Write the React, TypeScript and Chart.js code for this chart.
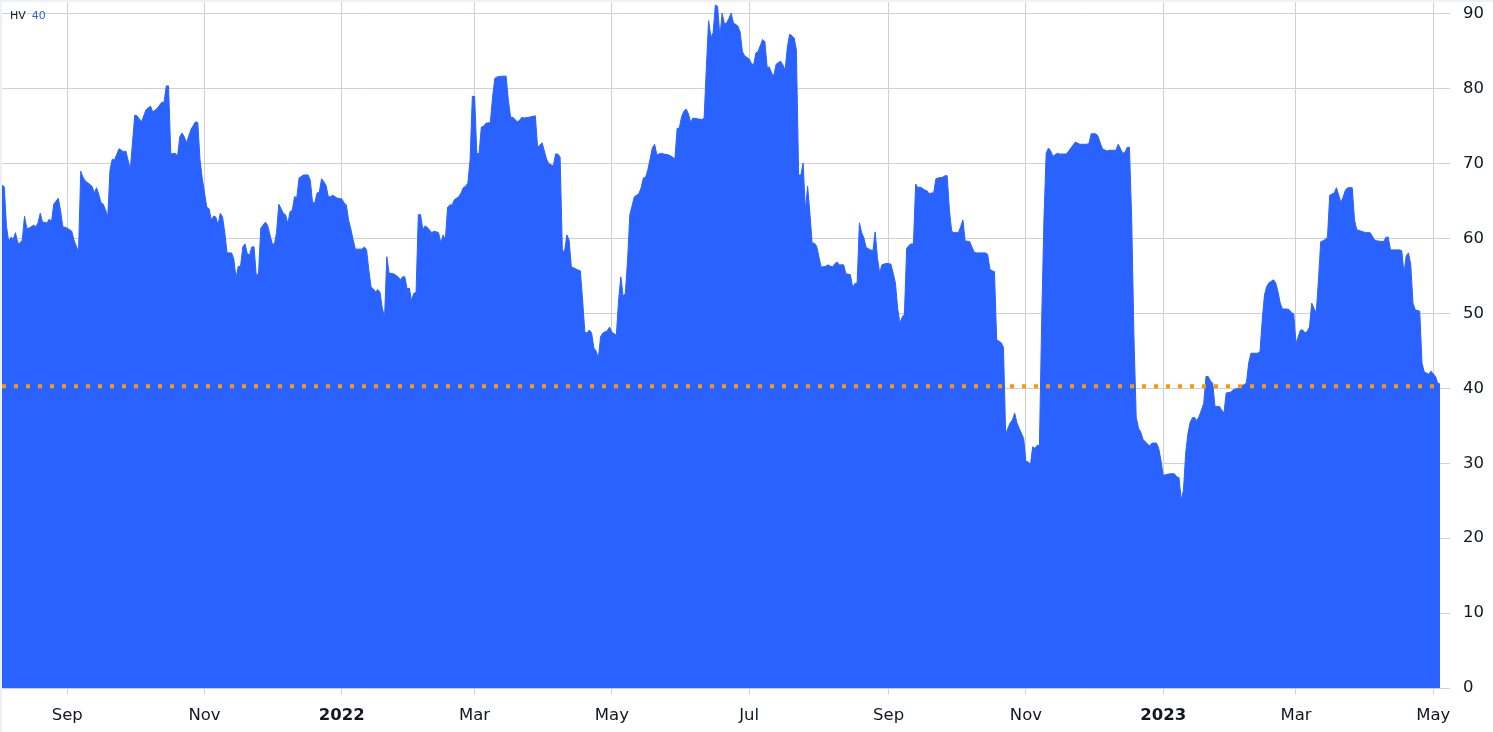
import { useEffect, useRef } from "react";
import Chart from "chart.js/auto";

// days counted from 2021-08-01
const BASE_DATE = Date.UTC(2021, 7, 1);

const dayOffsets = [
  2, 3, 4, 5, 6, 7, 8, 9, 10, 11, 12, 13, 14, 16, 17, 18, 19, 20, 22, 23, 24, 25, 27, 28, 29, 31, 33, 34, 36, 37,
  38, 39, 42, 43, 44, 45, 46, 47, 49, 50, 51, 52, 54, 56, 57, 58, 59, 61, 62, 64, 66, 68, 69, 71, 73, 74, 75, 76, 77, 79,
  80, 81, 82, 83, 84, 86, 88, 89, 90, 91, 92, 93, 94, 95, 96, 97, 98, 99, 100, 101, 102, 104, 105, 106, 107, 108, 109, 110, 111, 112,
  113, 114, 115, 116, 117, 119, 120, 122, 123, 124, 125, 127, 128, 129, 130, 131, 132, 133, 134, 136, 138, 139, 140, 141, 142, 143, 144, 145, 146, 147,
  148, 149, 150, 151, 153, 154, 155, 156, 157, 158, 159, 162, 163, 164, 165, 166, 167, 168, 169, 170, 171, 172, 173, 174, 176, 178, 179, 180, 181, 182,
  183, 184, 185, 186, 187, 188, 189, 190, 191, 193, 194, 196, 197, 198, 199, 200, 201, 202, 203, 205, 206, 207, 208, 209, 210, 211, 212, 213, 214, 215,
  216, 217, 219, 220, 221, 222, 224, 226, 227, 228, 229, 231, 232, 233, 234, 236, 239, 240, 242, 243, 244, 245, 247, 248, 249, 250, 251, 252, 253, 254,
  255, 256, 258, 259, 260, 261, 262, 263, 264, 265, 266, 267, 268, 269, 271, 272, 273, 275, 276, 277, 278, 279, 280, 281, 282, 283, 285, 286, 287, 288,
  289, 291, 292, 293, 295, 296, 298, 300, 301, 302, 303, 304, 305, 306, 307, 308, 309, 311, 313, 314, 315, 316, 317, 318, 319, 320, 321, 322, 323, 324,
  325, 326, 327, 329, 330, 331, 332, 334, 335, 336, 337, 338, 340, 341, 342, 343, 344, 345, 346, 348, 349, 350, 351, 352, 353, 354, 355, 356, 357, 358,
  359, 360, 361, 362, 363, 364, 365, 366, 368, 369, 371, 372, 373, 374, 376, 377, 379, 380, 381, 382, 383, 384, 385, 386, 388, 389, 390, 391, 392, 393,
  395, 397, 398, 399, 400, 401, 402, 403, 404, 405, 406, 407, 408, 409, 410, 412, 413, 414, 415, 416, 417, 418, 420, 421, 422, 423, 424, 425, 427, 428,
  429, 430, 432, 433, 434, 435, 437, 439, 440, 441, 442, 443, 444, 446, 447, 448, 449, 450, 451, 452, 453, 454, 456, 457, 458, 459, 460, 461, 462, 463,
  464, 465, 466, 467, 468, 469, 471, 472, 475, 476, 478, 479, 481, 484, 485, 486, 488, 489, 490, 491, 493, 494, 496, 497, 498, 500, 501, 502, 503, 504,
  505, 506, 507, 508, 509, 511, 512, 513, 515, 516, 517, 518, 521, 523, 524, 525, 526, 527, 528, 529, 530, 531, 532, 533, 534, 536, 537, 538, 539, 540,
  541, 543, 544, 545, 546, 548, 549, 551, 552, 554, 555, 556, 557, 558, 560, 561, 562, 563, 564, 565, 567, 568, 569, 570, 571, 573, 574, 575, 576, 577,
  579, 580, 581, 582, 583, 584, 585, 586, 587, 588, 589, 590, 591, 592, 594, 595, 597, 598, 599, 600, 602, 603, 604, 606, 608, 610, 612, 613, 616, 617,
  618, 619, 621, 623, 624, 625, 626, 627, 628, 629, 630, 632, 633, 634, 636, 637, 639, 640, 641,
];

const hvValues = [
  67.2, 66.9, 61.6, 59.6, 60.2, 59.9, 60.8, 59.4, 59.4, 59.8, 63.0, 61.4, 61.4, 61.8, 61.6, 62.1, 63.4, 62.2, 62.1, 62.6, 62.3, 64.6, 65.4, 63.8, 61.6, 61.4, 61.0, 59.8, 58.2, 69.0,
  68.2, 67.7, 67.0, 66.1, 66.8, 65.9, 64.8, 64.6, 63.0, 69.2, 70.6, 70.5, 72.0, 71.6, 71.7, 70.5, 69.2, 76.5, 76.4, 75.6, 77.2, 77.7, 76.9, 77.4, 78.2, 78.2, 80.4, 80.4, 71.3, 71.4,
  71.0, 73.6, 74.1, 73.6, 72.8, 74.6, 75.6, 75.5, 70.5, 68.0, 66.1, 64.2, 64.0, 62.5, 63.0, 62.9, 61.8, 63.4, 62.9, 60.8, 58.1, 58.1, 57.3, 54.7, 56.3, 56.3, 58.9, 59.3, 58.0, 57.8,
  58.9, 58.9, 55.0, 55.4, 61.4, 62.2, 61.8, 59.4, 59.2, 60.8, 64.6, 63.4, 63.2, 62.0, 63.6, 63.8, 65.6, 65.5, 68.1, 68.5, 68.5, 67.8, 64.8, 64.8, 66.1, 66.2, 68.0, 67.6, 67.1, 65.6,
  65.6, 65.8, 65.6, 65.4, 65.3, 64.8, 64.5, 62.5, 61.3, 59.9, 58.6, 58.6, 58.9, 58.5, 55.8, 53.5, 53.3, 52.9, 53.2, 52.8, 50.7, 49.5, 57.6, 55.4, 55.3, 54.9, 54.5, 54.9, 54.9, 53.3,
  53.4, 51.7, 52.7, 52.8, 63.2, 63.2, 61.2, 61.7, 61.5, 60.8, 61.0, 60.8, 59.4, 60.5, 59.8, 64.2, 64.5, 64.5, 65.2, 65.6, 66.1, 66.8, 67.0, 67.4, 70.5, 79.0, 79.0, 71.3, 71.4, 74.9,
  75.0, 75.4, 75.5, 78.9, 81.4, 81.6, 81.7, 81.7, 78.5, 76.2, 76.2, 75.6, 75.8, 76.2, 76.1, 76.2, 76.4, 72.2, 72.8, 71.7, 70.6, 70.0, 69.7, 71.3, 71.3, 70.9, 58.4, 58.3, 60.5, 59.8,
  56.2, 56.1, 55.8, 55.7, 51.8, 47.5, 47.4, 47.8, 47.4, 45.4, 45.0, 44.0, 46.9, 47.4, 47.7, 48.2, 47.5, 47.1, 51.8, 54.9, 52.3, 52.7, 57.2, 63.2, 64.4, 65.6, 66.0, 66.8, 68.1, 68.2,
  69.2, 72.1, 72.6, 71.2, 71.4, 71.3, 71.2, 70.9, 70.6, 74.7, 74.8, 76.3, 77.0, 77.3, 76.7, 75.5, 76.1, 76.0, 75.9, 76.1, 82.9, 89.1, 86.9, 87.5, 91.2, 91.0, 87.0, 90.1, 88.7, 88.8,
  89.4, 90.1, 88.8, 88.4, 87.6, 85.0, 84.4, 84.0, 83.4, 83.2, 84.8, 85.0, 86.6, 86.3, 82.9, 82.9, 82.1, 81.8, 83.3, 83.7, 83.2, 82.5, 85.6, 87.3, 87.1, 86.8, 85.2, 68.5, 68.5, 70.1,
  63.8, 67.0, 63.4, 59.4, 59.4, 59.0, 57.6, 56.2, 56.3, 56.5, 56.2, 56.6, 56.9, 56.5, 56.5, 55.3, 55.2, 53.5, 54.0, 54.1, 62.1, 60.8, 60.1, 58.8, 58.5, 58.4, 60.9, 57.5, 55.4, 56.5,
  56.7, 56.6, 55.4, 54.1, 50.7, 48.7, 49.5, 49.9, 58.7, 59.1, 59.3, 59.3, 67.3, 66.8, 66.9, 66.5, 66.4, 66.0, 66.1, 66.1, 68.0, 68.1, 68.2, 68.4, 68.4, 63.8, 61.0, 60.8, 60.8, 61.6,
  62.5, 59.7, 59.6, 58.9, 58.2, 58.1, 58.1, 58.1, 57.9, 55.9, 55.7, 55.6, 46.5, 46.1, 45.5, 33.9, 34.7, 35.4, 35.8, 36.7, 35.4, 34.7, 33.3, 30.2, 30.2, 29.8, 32.2, 32.0, 32.4, 32.4,
  49.1, 62.5, 71.4, 72.1, 71.7, 71.0, 71.4, 71.3, 71.3, 71.7, 72.5, 72.9, 72.6, 72.6, 72.7, 74.0, 74.0, 73.7, 72.8, 72.0, 71.7, 71.8, 71.8, 71.8, 72.6, 71.4, 71.5, 72.2, 72.2, 62.5,
  46.9, 36.2, 34.7, 34.2, 33.2, 32.6, 32.3, 32.7, 32.7, 32.0, 30.4, 28.4, 28.6, 28.6, 28.2, 28.1, 25.1, 26.4, 31.4, 34.0, 35.5, 36.1, 36.1, 35.7, 36.3, 38.0, 41.6, 41.6, 41.0, 40.7,
  37.6, 37.6, 37.1, 36.7, 39.4, 39.5, 39.8, 40.0, 40.3, 40.5, 40.8, 43.4, 44.7, 44.7, 44.7, 44.9, 49.1, 52.5, 53.6, 54.1, 54.5, 54.1, 52.9, 51.4, 50.6, 50.6, 50.5, 50.1, 50.0, 46.0,
  47.8, 47.8, 47.4, 47.6, 48.2, 51.4, 50.7, 50.1, 54.5, 59.6, 59.7, 59.9, 60.2, 65.8, 66.1, 66.8, 64.8, 65.6, 66.5, 66.8, 66.8, 62.5, 61.2, 61.0, 60.8, 60.8, 59.8, 59.7, 59.6, 60.2,
  60.2, 58.5, 58.5, 58.5, 58.4, 55.4, 57.7, 58.1, 56.5, 51.4, 50.5, 50.3, 43.4, 42.2, 41.9, 42.3, 41.6, 40.7, 40.6,
];

const priceLineValue = 40.3;

const xTickMonths: [number, number][] = [
  [2021, 8], [2021, 10], [2022, 0], [2022, 2], [2022, 4], [2022, 6],
  [2022, 8], [2022, 10], [2023, 0], [2023, 2], [2023, 4],
];
const xTickLabels = ["Sep", "Nov", "2022", "Mar", "May", "Jul", "Sep", "Nov", "2023", "Mar", "May"];
const yTickValues = [0, 10, 20, 30, 40, 50, 60, 70, 80, 90];

const legendName = "HV";
const legendParam = "40";

const FONT = "'DejaVu Sans', Verdana, sans-serif";
const GRID = "#cfd0d3";
const TEXT = "#131722";
const BLUE = "#2962FF";

function HvChart() {
  const canvasRef = useRef<HTMLCanvasElement | null>(null);

  useEffect(() => {
    if (!canvasRef.current) return;
    const tickDays = xTickMonths.map(
      ([y, m]) => (Date.UTC(y, m, 1) - BASE_DATE) / 86400000,
    );
    const first = dayOffsets[0];
    const last = dayOffsets[dayOffsets.length - 1];

    const chart = new Chart(canvasRef.current, {
      type: "line",
      data: {
        datasets: [
          {
            data: [
              { x: first, y: priceLineValue },
              { x: last, y: priceLineValue },
            ],
            borderColor: "#FF9800",
            borderWidth: 4,
            borderDash: [4, 8],
            borderCapStyle: "butt",
            pointRadius: 0,
            fill: false,
            order: 0,
          },
          {
            data: dayOffsets.map((d, i) => ({ x: d, y: hvValues[i] })),
            borderColor: BLUE,
            backgroundColor: BLUE,
            borderWidth: 1,
            pointRadius: 0,
            tension: 0,
            fill: "origin",
            order: 1,
          },
        ],
      },
      options: {
        responsive: false,
        animation: false,
        layout: { padding: 0 },
        plugins: {
          legend: { display: false },
          tooltip: { enabled: false },
        },
        scales: {
          x: {
            type: "linear",
            min: first,
            max: last,
            afterBuildTicks: (scale) => {
              scale.ticks = tickDays.map((v) => ({ value: v }));
            },
            afterFit: (scale: any) => {
              scale.height = 44;
              scale.paddingLeft = 0;
              scale.paddingRight = 0;
            },
            ticks: {
              autoSkip: false,
              maxRotation: 0,
              padding: 12,
              color: TEXT,
              font: (c) => ({
                family: FONT,
                size: 16.5,
                weight: /^\d{4}$/.test(xTickLabels[c.index] ?? "") ? "bold" : "normal",
              }),
              callback: (_v, i) => xTickLabels[i],
            },
            grid: { color: GRID, tickLength: 6 },
            border: { display: false },
          },
          y: {
            position: "right",
            min: 0,
            max: 91.6,
            afterBuildTicks: (scale) => {
              scale.ticks = yTickValues.map((v) => ({ value: v }));
            },
            afterFit: (scale: any) => {
              scale.width = 53;
              scale.paddingTop = 0;
              scale.paddingBottom = 0;
            },
            ticks: {
              padding: 13,
              color: TEXT,
              font: { family: FONT, size: 16.5 },
            },
            grid: { color: GRID, tickLength: 10 },
            border: { display: false },
          },
        },
      },
    });

    return () => chart.destroy();
  }, []);

  return <canvas ref={canvasRef} width={1491} height={730} style={{ display: "block" }} />;
}

export default function App() {
  return (
    <div
      style={{
        position: "fixed",
        left: 0,
        top: 0,
        width: 1493,
        height: 732,
        background: "#fff",
        boxSizing: "border-box",
        borderLeft: "2px solid #eef0f6",
        borderTop: "2px solid #eef0f6",
        fontFamily: FONT,
      }}
    >
      <HvChart />
      <div
        style={{
          position: "absolute",
          left: 8,
          top: 7,
          fontSize: 11,
          lineHeight: "13px",
          color: TEXT,
        }}
      >
        {legendName}
        <span style={{ color: BLUE, marginLeft: 6 }}>{legendParam}</span>
      </div>
    </div>
  );
}
